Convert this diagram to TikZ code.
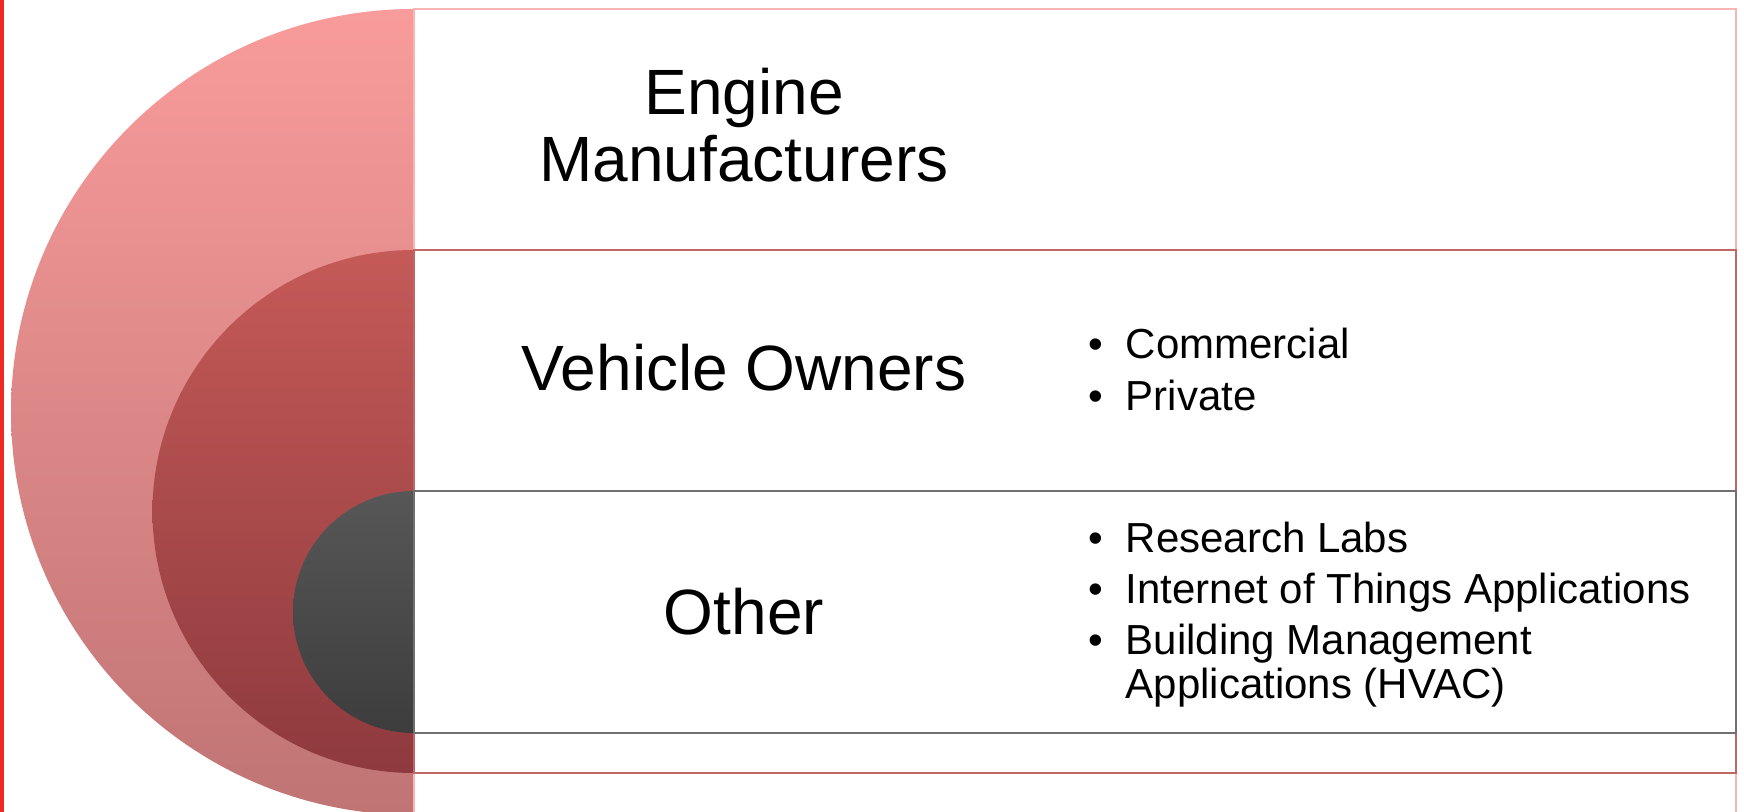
\documentclass[tikz,border=0pt]{standalone}
\usepackage{fontspec}
\setmainfont{Liberation Sans}
\definecolor{edgered}{HTML}{EE2A24}
\definecolor{outertop}{HTML}{F99B9B}
\definecolor{outerbot}{HTML}{C07474}
\definecolor{outerline}{HTML}{F9B4B4}
\definecolor{midtop}{HTML}{C55A58}
\definecolor{midbot}{HTML}{8E3A3E}
\definecolor{midline}{HTML}{C06666}
\definecolor{innertop}{HTML}{575757}
\definecolor{innerbot}{HTML}{3D3D3D}
\definecolor{innerline}{HTML}{707070}
\tikzset{
    band/.style =   {rectangle,
                    fill=white,
                    line width=1pt},
    heading/.style ={inner sep=0pt,
                    text=black,
                    anchor=base,
                    font=\fontsize{32}{33}\selectfont},
    items/.style =  {inner sep=0pt,
                    text=black,
                    anchor=base west,
                    font=\fontsize{21}{22}\selectfont}}

\begin{document}
\begin{tikzpicture}[x=0.5pt,y=-0.5pt]
    \useasboundingbox (0,0) rectangle (1744,812);
    \clip (0,0) rectangle (1744,812);
    \fill[edgered] (0,0) rectangle (4,812);

    % nested half discs, each with its band on the right
    \shade[top color=outertop, bottom color=outerbot] (414,412) circle (403);
    \draw[band, draw=outerline] (414,9) rectangle (1736,815);
    \shade[top color=midtop, bottom color=midbot] (414,511.5) circle (261.5);
    \draw[band, draw=midline] (414,250) rectangle (1736,773);
    \shade[top color=innertop, bottom color=innerbot] (414,612) circle (121);
    \draw[band, draw=innerline] (414,491) rectangle (1736,733);

    \node[heading]  (E)  at (744,115) {\begin{tabular}[t]{@{}c@{}}Engine\\Manufacturers\end{tabular}};
    \node[heading]  (V)  at (744,391) {Vehicle Owners};
    \node[heading]  (O)  at (744,634) {Other};

    \node[items]    (VL) at (1088,358) {\begin{tabular}[t]{@{}l@{\hspace{11.3pt}}l@{}}
                        \textbullet & Commercial\\[4pt]
                        \textbullet & Private
                    \end{tabular}};
    \node[items]    (OL) at (1088,552) {\begin{tabular}[t]{@{}l@{\hspace{11.3pt}}l@{}}
                        \textbullet & Research Labs\\[3.5pt]
                        \textbullet & Internet of Things Applications\\[3.5pt]
                        \textbullet & Building Management\\
                                    & Applications (HVAC)
                    \end{tabular}};
\end{tikzpicture}
\end{document}
